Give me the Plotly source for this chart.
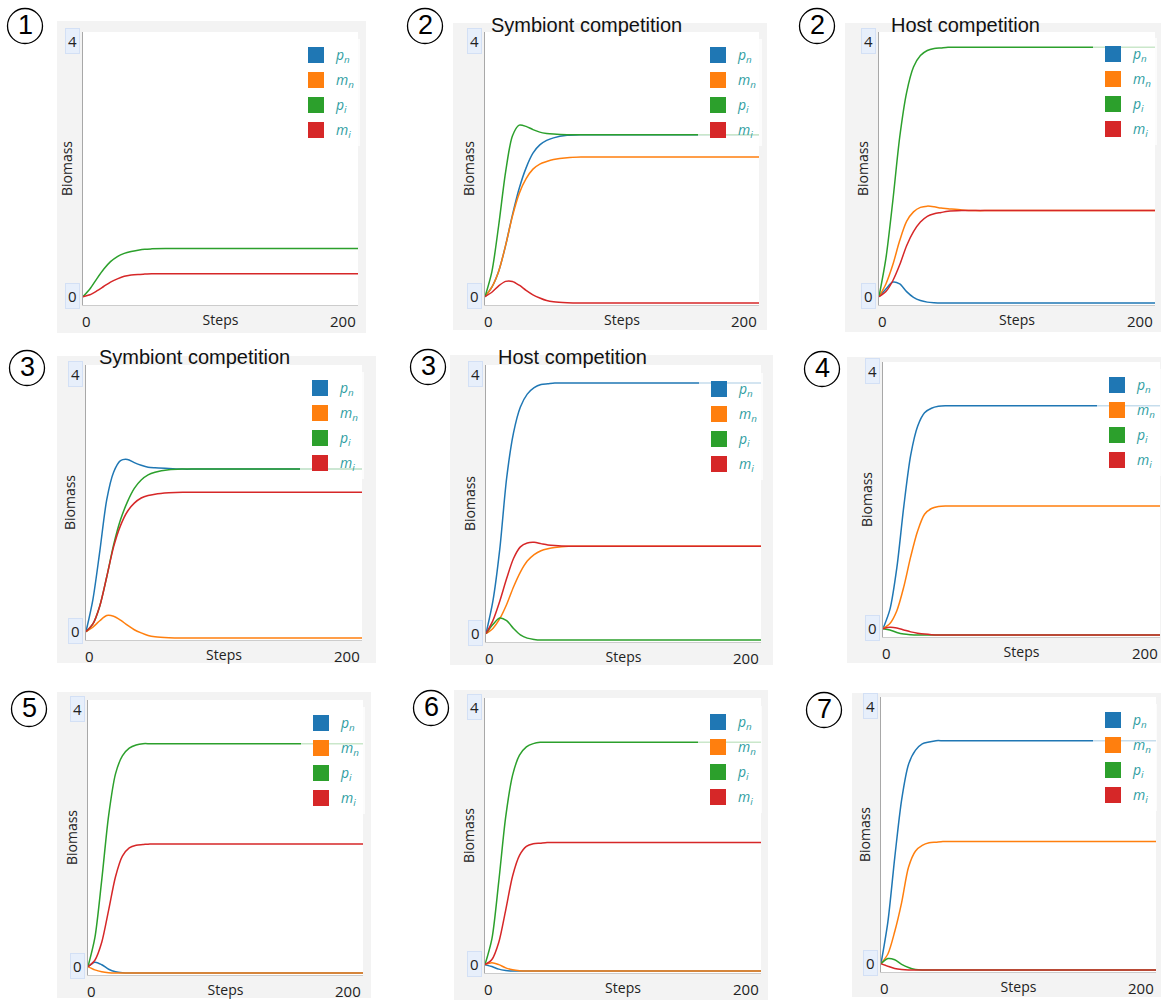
import plotly.graph_objects as go

W, H = 1161, 1000

# ---------------- data ----------------
STEPS = [0, 5, 10, 15, 20, 25, 30, 35, 40, 45, 50, 60, 70, 80, 100, 150, 200]

# panel 1
P1_PI = [0.10, 0.22, 0.38, 0.53, 0.65, 0.73, 0.78, 0.81, 0.83, 0.845, 0.85, 0.855, 0.855, 0.855, 0.855, 0.855, 0.855]
P1_MI = [0.10, 0.13, 0.19, 0.26, 0.33, 0.38, 0.42, 0.44, 0.45, 0.455, 0.46, 0.46, 0.46, 0.46, 0.46, 0.46, 0.46]
# panel 2 - symbiont competition
P2_PN = [0.10, 0.25, 0.50, 0.90, 1.38, 1.80, 2.12, 2.35, 2.48, 2.55, 2.59, 2.63, 2.64, 2.64, 2.64, 2.64, 2.64]
P2_MN = [0.10, 0.25, 0.50, 0.90, 1.36, 1.72, 1.95, 2.10, 2.18, 2.22, 2.25, 2.28, 2.29, 2.29, 2.29, 2.29, 2.29]
P2_PI = [0.10, 0.49, 1.22, 2.05, 2.62, 2.79, 2.77, 2.72, 2.68, 2.66, 2.65, 2.64, 2.64, 2.64, 2.64, 2.64, 2.64]
P2_MI = [0.10, 0.17, 0.27, 0.34, 0.34, 0.28, 0.20, 0.13, 0.08, 0.04, 0.02, 0.005, 0, 0, 0, 0, 0]
# panel 3 - host competition
P3_PN = [0.10, 0.22, 0.33, 0.30, 0.18, 0.09, 0.04, 0.015, 0.005, 0, 0, 0, 0, 0, 0, 0, 0]
P3_MN = [0.10, 0.30, 0.60, 0.98, 1.28, 1.43, 1.50, 1.52, 1.51, 1.49, 1.48, 1.46, 1.45, 1.45, 1.45, 1.45, 1.45]
P3_PI = [0.10, 0.70, 1.60, 2.60, 3.30, 3.70, 3.88, 3.96, 3.99, 4.00, 4.01, 4.01, 4.01, 4.01, 4.01, 4.01, 4.01]
P3_MI = [0.10, 0.18, 0.35, 0.60, 0.90, 1.12, 1.27, 1.36, 1.40, 1.42, 1.44, 1.45, 1.45, 1.45, 1.45, 1.45, 1.45]
# panel 4 - symbiont competition
P4_PN = [0.10, 0.60, 1.35, 2.15, 2.58, 2.76, 2.78, 2.73, 2.69, 2.66, 2.65, 2.64, 2.63, 2.63, 2.63, 2.63, 2.63]
P4_MN = [0.10, 0.17, 0.27, 0.35, 0.34, 0.28, 0.20, 0.13, 0.08, 0.04, 0.02, 0.005, 0, 0, 0, 0, 0]
P4_PI = [0.10, 0.22, 0.50, 0.95, 1.45, 1.84, 2.12, 2.33, 2.46, 2.54, 2.58, 2.62, 2.63, 2.63, 2.63, 2.63, 2.63]
P4_MI = [0.10, 0.22, 0.50, 0.95, 1.42, 1.75, 1.97, 2.10, 2.18, 2.22, 2.24, 2.26, 2.27, 2.27, 2.27, 2.27, 2.27]
# panel 5 - host competition
P5_PN = [0.10, 0.60, 1.40, 2.50, 3.20, 3.60, 3.80, 3.90, 3.95, 3.96, 3.97, 3.97, 3.97, 3.97, 3.97, 3.97, 3.97]
P5_MN = [0.10, 0.18, 0.33, 0.55, 0.82, 1.05, 1.22, 1.32, 1.38, 1.41, 1.43, 1.45, 1.45, 1.45, 1.45, 1.45, 1.45]
P5_PI = [0.10, 0.24, 0.34, 0.30, 0.18, 0.08, 0.03, 0.01, 0, 0, 0, 0, 0, 0, 0, 0, 0]
P5_MI = [0.10, 0.30, 0.60, 0.95, 1.26, 1.44, 1.50, 1.51, 1.49, 1.47, 1.46, 1.45, 1.45, 1.45, 1.45, 1.45, 1.45]
# panel 6
P6_PN = [0.10, 0.40, 1.05, 2.00, 2.80, 3.25, 3.46, 3.53, 3.56, 3.57, 3.57, 3.57, 3.57, 3.57, 3.57, 3.57, 3.57]
P6_MN = [0.10, 0.18, 0.38, 0.75, 1.22, 1.62, 1.88, 1.97, 2.00, 2.01, 2.01, 2.01, 2.01, 2.01, 2.01, 2.01, 2.01]
P6_PI = [0.10, 0.08, 0.04, 0.015, 0.005, 0, 0, 0, 0, 0, 0, 0, 0, 0, 0, 0, 0]
P6_MI = [0.10, 0.12, 0.11, 0.08, 0.05, 0.03, 0.015, 0.005, 0, 0, 0, 0, 0, 0, 0, 0, 0]
# panel 7
P7_PN = [0.10, 0.17, 0.13, 0.06, 0.02, 0.005, 0, 0, 0, 0, 0, 0, 0, 0, 0, 0, 0]
P7_MN = [0.10, 0.05, 0.02, 0.005, 0, 0, 0, 0, 0, 0, 0, 0, 0, 0, 0, 0, 0]
P7_PI = [0.10, 0.55, 1.45, 2.45, 3.10, 3.38, 3.50, 3.55, 3.57, 3.57, 3.57, 3.57, 3.57, 3.57, 3.57, 3.57, 3.57]
P7_MI = [0.10, 0.20, 0.48, 0.98, 1.50, 1.82, 1.95, 1.99, 2.00, 2.01, 2.01, 2.01, 2.01, 2.01, 2.01, 2.01, 2.01]
# panel 8
P8_PN = [0.10, 0.07, 0.03, 0.01, 0, 0, 0, 0, 0, 0, 0, 0, 0, 0, 0, 0, 0]
P8_MN = [0.10, 0.13, 0.10, 0.05, 0.02, 0.005, 0, 0, 0, 0, 0, 0, 0, 0, 0, 0, 0]
P8_PI = [0.10, 0.50, 1.40, 2.40, 3.05, 3.36, 3.49, 3.54, 3.56, 3.56, 3.56, 3.56, 3.56, 3.56, 3.56, 3.56, 3.56]
P8_MI = [0.10, 0.18, 0.45, 0.95, 1.48, 1.80, 1.94, 1.98, 1.99, 2.00, 2.00, 2.00, 2.00, 2.00, 2.00, 2.00, 2.00]
# panel 9
P9_PN = [0.10, 0.75, 1.75, 2.65, 3.20, 3.42, 3.52, 3.55, 3.57, 3.57, 3.57, 3.57, 3.57, 3.57, 3.57, 3.57, 3.57]
P9_MN = [0.10, 0.25, 0.60, 1.05, 1.60, 1.85, 1.94, 1.98, 1.99, 2.00, 2.00, 2.00, 2.00, 2.00, 2.00, 2.00, 2.00]
P9_PI = [0.10, 0.18, 0.16, 0.09, 0.04, 0.01, 0, 0, 0, 0, 0, 0, 0, 0, 0, 0, 0]
P9_MI = [0.10, 0.06, 0.025, 0.008, 0, 0, 0, 0, 0, 0, 0, 0, 0, 0, 0, 0, 0]

SERIES_KEYS = ["pn", "mn", "pi", "mi"]
SERIES_LABELS = ["<i>p<sub>n</sub></i>", "<i>m<sub>n</sub></i>", "<i>p<sub>i</sub></i>", "<i>m<sub>i</sub></i>"]
X_TICK_VALUES = [0, 200]
X_TICK_LABELS = ["0", "200"]
Y_TICK_VALUES = [0, 4]
Y_TICK_LABELS = ["0", "4"]
PANEL_NUMBERS = ["1", "2", "2", "3", "3", "4", "5", "6", "7"]
PANEL_TITLES = ["", "Symbiont competition", "Host competition",
                "Symbiont competition", "Host competition", "", "", "", ""]

PANEL_DATA = [
    {"pi": P1_PI, "mi": P1_MI},
    {"pn": P2_PN, "mn": P2_MN, "pi": P2_PI, "mi": P2_MI},
    {"pn": P3_PN, "mn": P3_MN, "pi": P3_PI, "mi": P3_MI},
    {"pn": P4_PN, "mn": P4_MN, "pi": P4_PI, "mi": P4_MI},
    {"pn": P5_PN, "mn": P5_MN, "pi": P5_PI, "mi": P5_MI},
    {"pn": P6_PN, "mn": P6_MN, "pi": P6_PI, "mi": P6_MI},
    {"pn": P7_PN, "mn": P7_MN, "pi": P7_PI, "mi": P7_MI},
    {"pn": P8_PN, "mn": P8_MN, "pi": P8_PI, "mi": P8_MI},
    {"pn": P9_PN, "mn": P9_MN, "pi": P9_PI, "mi": P9_MI},
]

# ---------------- styling / layout geometry (pixels) ----------------
COLORS = {"pn": "#1f77b4", "mn": "#ff7f0e", "pi": "#2ca02c", "mi": "#d62728"}
LEGEND_TEXT = "#2f9ea2"
BOX_FILL = "#f3f3f3"

# plot areas: (left, right, top, bottom)
PLOTS = [
    (83, 358, 32, 305), (485, 759, 32, 305), (879, 1155, 32, 305),
    (86, 362, 365, 640), (486, 761, 365, 642), (883, 1160, 362, 637),
    (88, 363, 700, 975), (485, 761, 698, 973), (881, 1156, 697, 972),
]
BOXES = [
    (57, 366, 21, 333), (453, 767, 23, 330), (845, 1161, 23, 332),
    (57, 376, 356, 663), (450, 773, 355, 665), (847, 1161, 357, 663),
    (57, 371, 692, 998), (454, 768, 690, 1000), (852, 1161, 693, 997),
]
CIRCLES = [(25, 26), (425, 26), (817, 26), (27, 368), (428, 367), (822, 369),
           (29, 709), (431, 708), (824, 710)]
TITLE_POS = [None, (489, 25), (889, 25), (97, 357), (496, 357), None, None, None, None]
# legend: (square left, first row center y)
LEGEND_POS = [(308, 55), (710, 55), (1105, 54), (312, 388), (711, 389), (1109, 385),
              (313, 723), (710, 722), (1105, 720)]

Y_RANGE = [-0.03, 4.25]
X_RANGE = [0, 200]
LEG_FONT = 14
LEG_H = LEG_FONT * 1.3 + 3


def px(x):
    return x / W


def py(y):
    return 1 - y / H


fig = go.Figure()
shapes = []
annotations = []
layout = dict(
    width=W, height=H, margin=dict(l=0, r=0, t=0, b=0),
    paper_bgcolor="white", plot_bgcolor="white", showlegend=True,
    font=dict(family="Open Sans, Noto Sans, sans-serif", color="#222"),
)

for k in range(9):
    n = k + 1
    sfx = "" if n == 1 else str(n)
    xa, ya = "x" + sfx, "y" + sfx
    lg = "legend" + sfx
    L, R, T, B = PLOTS[k]
    data = PANEL_DATA[k]

    # lines
    for key in SERIES_KEYS:
        if key in data:
            fig.add_trace(go.Scatter(
                x=STEPS, y=data[key], mode="lines", xaxis=xa, yaxis=ya,
                line=dict(color=COLORS[key], width=1.5, shape="spline", smoothing=0.8),
                showlegend=False, hoverinfo="skip"))
    # legend entries (square swatches)
    for key, lab in zip(SERIES_KEYS, SERIES_LABELS):
        fig.add_trace(go.Scatter(
            x=[None], y=[None], mode="markers", xaxis=xa, yaxis=ya,
            marker=dict(symbol="square", size=16, color=COLORS[key]),
            name=lab, legend=lg, legendgroup=f"{n}-{key}", showlegend=True))

    layout["xaxis" + sfx] = dict(
        domain=[px(L), px(R)], anchor=ya, range=X_RANGE, showgrid=False, zeroline=False,
        showticklabels=False, ticks="", showline=True, linecolor="#cccccc", linewidth=1,
        title=dict(text="Steps", standoff=10, font=dict(size=14, color="#222")),
        fixedrange=True)
    layout["yaxis" + sfx] = dict(
        domain=[py(B), py(T)], anchor=xa, range=Y_RANGE, showgrid=False, zeroline=False,
        showticklabels=False, ticks="", showline=True, linecolor="#a8a8a8", linewidth=1,
        title=dict(text="Biomass", standoff=6, font=dict(size=14, color="#222")),
        fixedrange=True)

    sq_left, row_c = LEGEND_POS[k]
    layout[lg] = dict(
        x=px(sq_left - 12), y=py(row_c - 5 - LEG_H / 2), xanchor="left", yanchor="top",
        bgcolor="rgba(255,255,255,0.75)", borderwidth=0,
        font=dict(size=LEG_FONT, color=LEGEND_TEXT, family="Open Sans, sans-serif"),
        tracegroupgap=25 - LEG_H, itemclick=False, itemdoubleclick=False)

    # gray background box + white plot area
    bl, br, bt, bb = BOXES[k]
    shapes.append(dict(type="rect", xref="paper", yref="paper", layer="below",
                       x0=px(bl), x1=px(br), y0=py(bb), y1=py(bt),
                       fillcolor=BOX_FILL, line=dict(width=0)))
    shapes.append(dict(type="rect", xref="paper", yref="paper", layer="below",
                       x0=px(L), x1=px(R), y0=py(B), y1=py(T),
                       fillcolor="white", line=dict(width=0)))
    # circled number
    cx, cy = CIRCLES[k]
    r = 17.5
    shapes.append(dict(type="circle", xref="paper", yref="paper",
                       x0=px(cx - r), x1=px(cx + r), y0=py(cy + r), y1=py(cy - r),
                       line=dict(color="black", width=1.3), fillcolor="rgba(0,0,0,0)"))
    annotations.append(dict(text=PANEL_NUMBERS[k], xref="paper", yref="paper",
                            x=px(cx), y=py(cy), xanchor="center", yanchor="middle",
                            showarrow=False, yshift=1,
                            font=dict(size=27, color="black", family="Liberation Sans, Arial")))
    # title
    if PANEL_TITLES[k]:
        tx, ty = TITLE_POS[k]
        annotations.append(dict(text=PANEL_TITLES[k], xref="paper", yref="paper",
                                x=px(tx), y=py(ty), xanchor="left", yanchor="middle",
                                showarrow=False,
                                font=dict(size=20, color="#111", family="Liberation Sans, Arial")))
    # y tick labels (boxed)
    for v, t in zip(Y_TICK_VALUES, Y_TICK_LABELS):
        annotations.append(dict(text=t, xref=xa + " domain", yref=ya, x=0, y=v,
                                xanchor="right", yanchor="middle", xshift=-3, yshift=7,
                                showarrow=False, bgcolor="#e7effb", bordercolor="#d3e0f5",
                                borderwidth=1, borderpad=2,
                                font=dict(size=15, color="#222")))
    # x tick labels
    for v, t in zip(X_TICK_VALUES, X_TICK_LABELS):
        first = v == X_TICK_VALUES[0]
        annotations.append(dict(text=t, xref=xa, yref=ya + " domain", x=v, y=0,
                                xanchor="left" if first else "right",
                                xshift=-3 if first else 0,
                                yanchor="top", yshift=-4, showarrow=False,
                                font=dict(size=15, color="#222")))

layout["shapes"] = shapes
layout["annotations"] = annotations
fig.update_layout(**layout)
fig.write_html("out.html", config={"displayModeBar": False},
               post_script="document.body.style.margin='0';")
